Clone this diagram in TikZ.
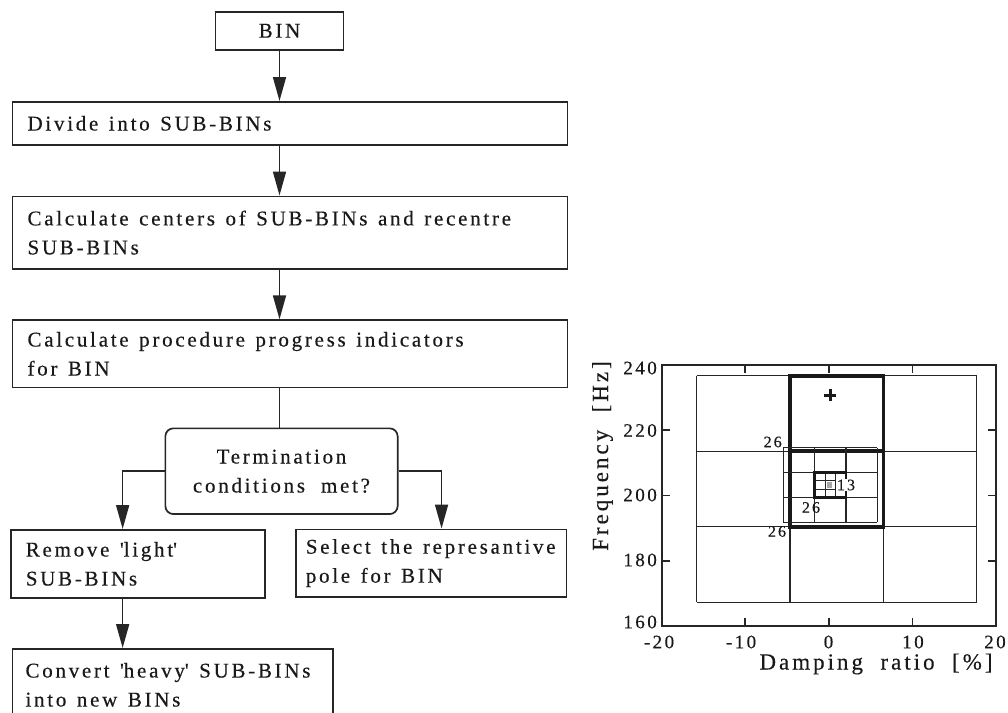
\documentclass[tikz,border=0pt]{standalone}
\usepackage{fontspec}
\setmainfont{Liberation Serif}
\newfontfamily\flowfont{Liberation Serif}[LetterSpace=13, WordSpace=2, FakeBold=0.4]
\usetikzlibrary{arrows.meta, calc}

\begin{document}
\begin{tikzpicture}[
  x=1pt, y=-1pt,
  flowtext/.style={font=\flowfont\fontsize{21}{29}\selectfont, text=black!90},
  stepbox/.style={flowtext, draw=black!85, line width=1.7pt, anchor=north west,
                  align=left, inner xsep=15pt, inner ysep=0pt,
                  execute at begin node={\spaceskip=0.5em\xspaceskip=0.5em\relax}},
  termbox/.style={flowtext, draw=black!85, line width=1.7pt, rounded corners=8pt,
                  align=center},
  link/.style={draw=black!85, line width=1.7pt},
  flow/.style={link, -{Triangle[length=24pt,width=13pt]}},
  frame/.style={draw=black!85, line width=1.7pt},
  grid/.style={draw=black!85, line width=1.3pt},
  heavy/.style={draw=black!90, line width=3.6pt},
  ticklab/.style={font=\flowfont\fontsize{19}{20}\selectfont, text=black!90, inner sep=0pt},
  axlab/.style={font=\flowfont\fontsize{23}{25}\selectfont, text=black!90, inner sep=0pt},
  countlab/.style={font=\flowfont\fontsize{16}{18}\selectfont, text=black!90, inner sep=0.5pt}
]
  \useasboundingbox (0,0) rectangle (1008,712);

  % Flowchart
  \node[flowtext, draw=black!85, line width=1.7pt, minimum width=128pt,
        minimum height=38.3pt] (bin) at (279.5,30.8) {BIN};
  \node[stepbox, text width=525pt, minimum height=43pt] (divide) at (11.7,101)
    {Divide into SUB-BINs};
  \node[stepbox, text width=525pt, minimum height=72.5pt] (centers) at (11.7,195.5)
    {\mbox{Calculate centers of SUB-BINs and recentre}\\SUB-BINs};
  \node[stepbox, text width=525pt, minimum height=67.4pt] (progress) at (11.7,319.3)
    {\mbox{Calculate procedure progress indicators}\\for BIN};
  \node[termbox, minimum width=232.3pt, minimum height=85.7pt] (term) at (281.5,471.2)
    {Termination\\conditions met?};
  \node[stepbox, text width=224.3pt, minimum height=68pt] (remove) at (10,529)
    {Remove \textquotesingle light\textquotesingle\\SUB-BINs};
  \node[stepbox, inner xsep=10pt, text width=250.7pt, minimum height=67.5pt] (select) at (295,528.5)
    {\mbox{Select the represantive}\\pole for BIN};
  \node[stepbox, inner xsep=13pt, text width=294.6pt, minimum height=72pt] (convert) at (11.7,648)
    {\mbox{Convert \textquotesingle heavy\textquotesingle\ SUB-BINs}\\into new BINs};

  \coordinate (lhit) at ($(remove.north west)!0.44!(remove.north east)$);
  \coordinate (rhit) at ($(select.north west)!0.538!(select.north east)$);

  \draw[flow] (bin.south) -- (bin.south |- divide.north);
  \draw[flow] (divide.south -| bin.south) -- (centers.north -| bin.south);
  \draw[flow] (centers.south -| bin.south) -- (progress.north -| bin.south);
  \draw[link] (progress.south -| bin.south) -- (term.north -| bin.south);
  \draw[flow] (term.west) -| (lhit);
  \draw[flow] (term.east) -| (rhit);
  \draw[flow] (remove.south -| lhit) -- (convert.north -| lhit);

  % Plot: axes
  \draw[frame] (661.7,365) rectangle (996,626);
  \foreach \x in {745.2,828.8,912.4} {
    \draw[frame] (\x,626) -- (\x,618);
    \draw[frame] (\x,365) -- (\x,373);
  }
  \foreach \y in {430.25,495.5,560.75} {
    \draw[frame] (661.7,\y) -- (669.7,\y);
    \draw[frame] (996,\y) -- (988,\y);
  }
  \foreach \x/\lab in {659/-20, 741/-10, 828.5/0, 913/10, 995/20}
    \node[ticklab] at (\x,642) {\lab};
  \foreach \y/\lab in {368/240, 430.5/220, 495/200, 560/180, 622/160}
    \node[ticklab, anchor=east] at (657,\y) {\lab};
  \node[axlab] (xlab) at (876,664) {Damping ratio [\%]};
  \node[axlab, rotate=90] (ylab) at (602.5,456) {Frequency [Hz]};

  % Plot: BIN and SUB-BINs
  \foreach \i in {0,...,3} {
    \draw[grid] ({696.7+93.33*\i},375.7) -- ({696.7+93.33*\i},602.3);
    \draw[grid] (696.7,{375.7+75.53*\i}) -- (976.7,{375.7+75.53*\i});
  }
  \draw[heavy] (790,375.7) rectangle (883.3,526.8);
  \draw[heavy] (790,451.2) -- (883.3,451.2);
  \foreach \i in {0,...,3} {
    \draw[grid] ({783.3+31.33*\i},447.7) -- ({783.3+31.33*\i},522.3);
    \draw[grid] (783.3,{447.7+24.87*\i}) -- (877.3,{447.7+24.87*\i});
  }
  \fill[gray!70] (826.5,482) rectangle (832,487.5);
  \foreach \i in {1,2} {
    \draw[grid, line width=1pt] ({814.6+10.47*\i},472.6) -- ({814.6+10.47*\i},497.4);
    \draw[grid, line width=1pt] (814.6,{472.6+8.27*\i}) -- (846,{472.6+8.27*\i});
  }
  \draw[draw=black!90, line width=2.6pt] (814.6,472.6) rectangle (846,497.4);
  \draw[draw=black!90, line width=3pt] (824,395) -- (836,395) (830,389) -- (830,401);

  \node[countlab, fill=white] (n13) at (846,485) {13};
  \node[countlab] (n26a) at (772.7,442) {26};
  \node[countlab] (n26b) at (811,507.5) {26};
  \node[countlab] (n26c) at (777,531.5) {26};
\end{tikzpicture}
\end{document}
